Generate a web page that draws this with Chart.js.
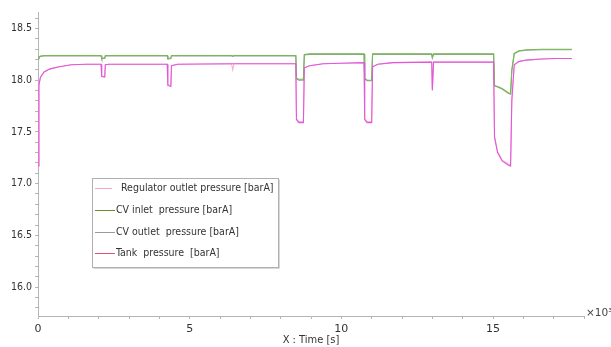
<!DOCTYPE html>
<html>
<head>
<meta charset="utf-8">
<script src="https://cdn.jsdelivr.net/npm/chart.js@4.4.1/dist/chart.umd.min.js"></script>
<style>
html,body{margin:0;padding:0;background:#fff;}
#c{display:block;}
</style>
</head>
<body>
<canvas id="c" width="611" height="347"></canvas>
<script>
// time in 10^3 s
const timeK = [0.00,0.03,0.08,0.2,0.4,0.7,1.1,1.6,2.08,2.10,2.20,2.22,2.35,4.26,4.28,4.38,4.40,4.6,6.38,6.42,6.46,8.50,8.52,8.60,8.75,8.78,8.95,9.4,10.0,10.75,10.77,10.85,11.0,11.03,11.2,11.7,12.98,13.0,13.04,15.02,15.05,15.15,15.3,15.5,15.58,15.62,15.7,15.85,16.1,16.6,17.1,17.6];
const cvInlet = [18.21,18.225,18.235,18.24,18.24,18.24,18.24,18.24,18.24,18.215,18.215,18.24,18.24,18.24,18.21,18.215,18.24,18.24,18.24,18.235,18.24,18.24,18.02,18.01,18.01,18.25,18.255,18.255,18.255,18.255,18.02,18.0,18.0,18.255,18.255,18.255,18.255,18.22,18.255,18.255,17.95,17.94,17.92,17.88,17.87,18.10,18.26,18.285,18.295,18.3,18.3,18.3];
const tankP = [17.17,17.95,18.03,18.08,18.11,18.13,18.15,18.155,18.155,18.035,18.03,18.15,18.155,18.155,17.95,17.94,18.14,18.155,18.16,18.16,18.16,18.16,17.62,17.59,17.59,18.12,18.14,18.16,18.165,18.17,17.62,17.59,17.59,18.13,18.155,18.17,18.175,17.90,18.175,18.175,17.45,17.30,17.22,17.18,17.17,17.80,18.15,18.18,18.195,18.205,18.21,18.21];
const regOutlet = [17.17,17.95,18.03,18.08,18.11,18.13,18.15,18.155,18.155,18.04,18.035,18.15,18.155,18.155,17.96,17.95,18.14,18.155,18.16,18.10,18.16,18.16,17.63,17.60,17.60,18.12,18.14,18.16,18.165,18.17,17.63,17.60,17.60,18.13,18.155,18.17,18.175,17.91,18.175,18.175,17.46,17.31,17.23,17.19,17.18,17.80,18.15,18.18,18.195,18.205,18.21,18.21];
const cvOutlet = [18.205,18.22,18.23,18.235,18.235,18.235,18.235,18.235,18.235,18.21,18.21,18.235,18.235,18.235,18.205,18.21,18.235,18.235,18.235,18.23,18.235,18.235,18.015,18.0,18.0,18.245,18.25,18.25,18.25,18.25,18.015,17.995,17.995,18.25,18.25,18.25,18.25,18.215,18.25,18.25,17.945,17.935,17.915,17.875,17.865,18.09,18.255,18.28,18.29,18.295,18.295,18.295];

const seriesLabels = ['Regulator outlet pressure [barA]','CV inlet  pressure [barA]','CV outlet  pressure [barA]','Tank  pressure  [barA]'];
const xTickValues = [0,1,2,3,4,5,6,7,8,9,10,11,12,13,14,15,16,17,18];
const xTickLabels = {0:'0',5:'5',10:'10',15:'15'};
const yTickValues = [15.8,15.9,16.0,16.1,16.2,16.3,16.4,16.5,16.6,16.7,16.8,16.9,17.0,17.1,17.2,17.3,17.4,17.5,17.6,17.7,17.8,17.9,18.0,18.1,18.2,18.3,18.4,18.5,18.6];
const yMajorLabels = {'16.0':'16.0','16.5':'16.5','17.0':'17.0','17.5':'17.5','18.0':'18.0','18.5':'18.5'};
const xExponentLabel = '×10³';

function pts(ys){ return timeK.map((t,i)=>({x:t,y:ys[i]})); }

const colors = ['#f7b0cf','#74bb52','#9a9a9a','#e258dc'];
const legendColors = ['#f7a9c4','#6b8f2a','#9a9a9a','#e8507a'];

const legendPlugin = {
  id:'boxLegend',
  afterDraw(chart){
    const ctx = chart.ctx;
    ctx.save();
    const x0=92,y0=178,w=186,h=89;
    ctx.fillStyle='#fff';
    ctx.fillRect(x0,y0,w,h);
    ctx.strokeStyle='#b0b0b0';
    ctx.lineWidth=1;
    ctx.strokeRect(x0+0.5,y0+0.5,w,h);
    ctx.strokeStyle='#d8d8d8';
    ctx.beginPath();ctx.moveTo(x0+1.5,y0+h+1.5);ctx.lineTo(x0+w+1.5,y0+h+1.5);ctx.lineTo(x0+w+1.5,y0+1.5);ctx.stroke();
    ctx.font='10.5px "DejaVu Sans Condensed","Liberation Sans",sans-serif';
    ctx.textBaseline='middle';
    const rows=[188,210,232,253];
    seriesLabels.forEach((lab,i)=>{
      ctx.strokeStyle=legendColors[i];
      ctx.lineWidth=1;
      ctx.beginPath();
      const lx0 = 95, lx1 = i===0?112:115;
      ctx.moveTo(lx0,rows[i]+0.5);ctx.lineTo(lx1,rows[i]+0.5);ctx.stroke();
      ctx.fillStyle='#333';
      ctx.fillText(lab, i===0?121:116, rows[i]);
    });
    const xa = chart.scales.x;
    ctx.font='10.5px "DejaVu Sans","Liberation Sans",sans-serif';
    ctx.fillStyle='#444';
    ctx.textBaseline='middle';
    ctx.fillText(xExponentLabel, xa.right+2, xa.top-3);
    ctx.restore();
  }
};

new Chart(document.getElementById('c'),{
  type:'line',
  data:{
    datasets:[
      {label:seriesLabels[0],data:pts(regOutlet),borderColor:colors[0],order:3},
      {label:seriesLabels[1],data:pts(cvInlet),borderColor:colors[1],order:1},
      {label:seriesLabels[2],data:pts(cvOutlet),borderColor:colors[2],order:2},
      {label:seriesLabels[3],data:pts(tankP),borderColor:colors[3],order:0}
    ].map(d=>Object.assign(d,{borderWidth:1.1,pointRadius:0,tension:0,fill:false}))
  },
  options:{
    responsive:false,
    animation:false,
    layout:{padding:{top:12,right:27,left:0,bottom:0}},
    plugins:{legend:{display:false},tooltip:{enabled:false}},
    scales:{
      x:{
        type:'linear',min:0,max:18,
        afterBuildTicks(s){ s.ticks = xTickValues.map(v=>({value:v})); },
        afterFit(s){ s.height = 31; },
        ticks:{autoSkip:false,maxRotation:0,padding:4,color:'#333',font:{size:11,family:'"DejaVu Sans","Liberation Sans",sans-serif'},
          callback:(v)=> (xTickLabels[v]!==undefined? xTickLabels[v] : '')},
        grid:{drawOnChartArea:false,drawTicks:true,tickLength:3,color:'#b5b5b5'},
        border:{color:'#b5b5b5'},
        title:{display:true,text:'X : Time [s]',color:'#333',padding:{top:0,bottom:0},font:{size:11,family:'"DejaVu Sans Condensed","Liberation Sans",sans-serif'}}
      },
      y:{
        type:'linear',min:15.72,max:18.66,
        afterBuildTicks(s){ s.ticks = yTickValues.map(v=>({value:v})); },
        afterFit(s){ s.width = 38; },
        ticks:{autoSkip:false,padding:3,color:'#333',font:{size:10.5,family:'"DejaVu Sans Condensed","Liberation Sans",sans-serif'},
          callback:(v)=>{ const k=v.toFixed(1); return yMajorLabels[k]!==undefined? yMajorLabels[k] : ''; }},
        grid:{drawOnChartArea:false,drawTicks:true,tickLength:3,color:'#b5b5b5'},
        border:{color:'#b5b5b5'}
      }
    }
  },
  plugins:[legendPlugin]
});
</script>
</body>
</html>
